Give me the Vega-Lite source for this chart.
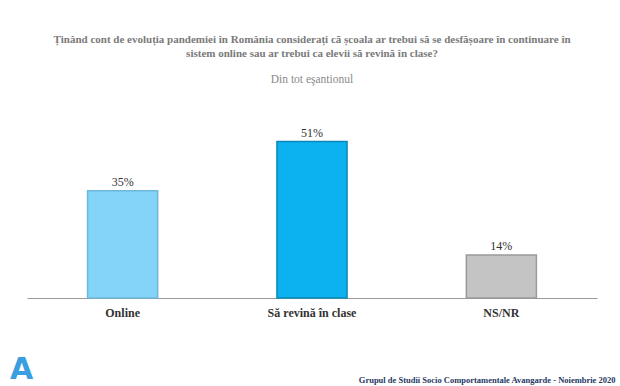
{
  "$schema": "https://vega.github.io/schema/vega-lite/v6.json",
  "width": 570,
  "height": 184,
  "autosize": {"type": "none"},
  "padding": {"left": 27, "top": 114, "right": 23, "bottom": 88},
  "background": "white",
  "config": {
    "view": {"stroke": null},
    "font": "Liberation Serif"
  },
  "title": {
    "text": ["Ținând cont de evoluția pandemiei în România considerați că școala ar trebui să se desfășoare în continuare în", "sistem online sau ar trebui ca elevii să revină în clase?"],
    "subtitle": "Din tot eşantionul",
    "anchor": "middle",
    "font": "Liberation Serif",
    "fontSize": 11,
    "fontWeight": "bold",
    "color": "#7a7a7a",
    "lineHeight": 14,
    "subtitleFont": "Liberation Serif",
    "subtitleFontSize": 11.5,
    "subtitleColor": "#8a8a8a",
    "subtitlePadding": 15,
    "offset": 29
  },
  "data": {
    "values": [
      {"cat": "Online", "pct": 0.35},
      {"cat": "Să revină în clase", "pct": 0.51},
      {"cat": "NS/NR", "pct": 0.14}
    ]
  },
  "encoding": {
    "x": {
      "field": "cat",
      "type": "nominal",
      "sort": null,
      "scale": {"paddingInner": 0.63, "paddingOuter": 0.32},
      "axis": {
        "labelAngle": 0,
        "labelFont": "Liberation Serif",
        "labelFontSize": 12,
        "labelFontWeight": "bold",
        "labelColor": "#333333",
        "labelPadding": 9,
        "ticks": false,
        "domainColor": "#999999",
        "title": "Grupul de Studii Socio Comportamentale Avangarde  -  Noiembrie 2020",
        "titleFont": "Liberation Serif",
        "titleFontSize": 8.5,
        "titleFontWeight": "bold",
        "titleColor": "#1f3864",
        "titleAnchor": "end",
        "titleAlign": "right",
        "titleBaseline": "alphabetic",
        "titleX": 588,
        "titleY": 84
      }
    },
    "y": {
      "field": "pct",
      "type": "quantitative",
      "scale": {"domain": [0, 0.6]},
      "axis": {
        "labels": false,
        "ticks": false,
        "domain": false,
        "grid": false,
        "title": "A",
        "titleAngle": 0,
        "titleFont": "DejaVu Sans",
        "titleFontSize": 30,
        "titleFontWeight": "bold",
        "titleColor": "#3a9ee0",
        "titleBaseline": "alphabetic",
        "titleX": -6,
        "titleY": 264,
        "titleAlign": "center"
      }
    }
  },
  "layer": [
    {
      "mark": {"type": "bar", "strokeWidth": 1.5},
      "encoding": {
        "color": {
          "field": "cat",
          "type": "nominal",
          "scale": {
            "domain": ["Online", "Să revină în clase", "NS/NR"],
            "range": ["#84d4f8", "#0cb2f0", "#c4c4c4"]
          },
          "legend": null
        },
        "stroke": {
          "field": "cat",
          "type": "nominal",
          "scale": {
            "domain": ["Online", "Să revină în clase", "NS/NR"],
            "range": ["#6cb8dc", "#0a86b8", "#9a9a9a"]
          },
          "legend": null
        }
      }
    },
    {
      "mark": {"type": "text", "dy": -9, "fontSize": 12, "color": "#333333", "font": "Liberation Serif"},
      "encoding": {
        "text": {"field": "pct", "type": "quantitative", "format": ".0%"}
      }
    }
  ]
}
